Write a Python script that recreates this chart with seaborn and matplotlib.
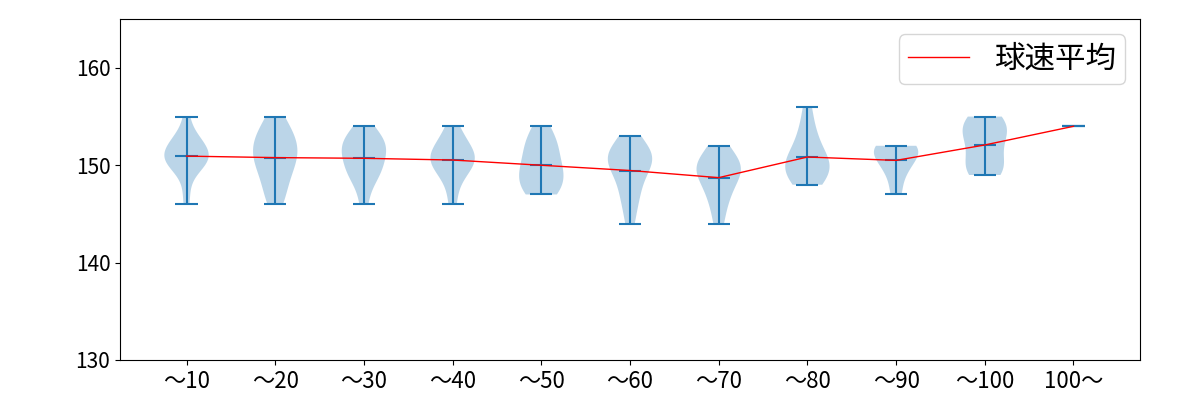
import numpy as np
import matplotlib
matplotlib.use("Agg")
import matplotlib.pyplot as plt
from matplotlib import cbook, mlab
import seaborn as sns
import pandas as pd

plt.rcParams['font.family'] = ['Noto Sans CJK JP', 'DejaVu Sans']

categories = ["～10", "～20", "～30", "～40", "～50", "～60", "～70", "～80", "～90", "～100", "100～"]

speeds_10 = [146, 148, 150, 150, 150, 150, 151, 151, 151, 151, 152, 152, 152, 153, 153, 155]
speeds_20 = [146, 147, 148, 149, 150, 150, 151, 151, 152, 152, 153, 153, 154, 155]
speeds_30 = [146, 148, 149, 149, 150, 150, 151, 151, 152, 152, 152, 153, 153, 154]
speeds_40 = [146, 148, 149, 150, 150, 150, 151, 151, 151, 152, 152, 153, 154]
speeds_50 = [147, 147, 148, 148, 149, 149, 150, 150, 151, 152, 152, 153, 154]
speeds_60 = [144, 146, 147, 148, 149, 150, 150, 151, 151, 151, 151, 152, 153]
speeds_70 = [144, 146, 147, 148, 149, 149, 150, 150, 150, 151, 152]
speeds_80 = [148, 148, 149, 149, 150, 150, 150, 151, 151, 152, 153, 154, 156]
speeds_90 = [147, 149, 150, 151, 151, 152, 152, 152]
speeds_100 = [149, 149, 150, 150, 151, 152, 153, 153, 154, 154, 155, 155]
speeds_over = [154]

groups = [speeds_10, speeds_20, speeds_30, speeds_40, speeds_50, speeds_60,
          speeds_70, speeds_80, speeds_90, speeds_100, speeds_over]


def kde(X, coords):
    X = np.asarray(X, dtype=float)
    if X.size < 2 or np.std(X) == 0:
        return np.zeros_like(coords)
    return mlab.GaussianKDE(X, "scott").evaluate(coords)


fig = plt.figure(figsize=(12, 4), dpi=100)
ax = fig.add_axes([0.1, 0.1, 0.85, 0.852])

positions = np.arange(1, len(categories) + 1)
stats = cbook.violin_stats(groups, kde)
ax.violin(stats, positions=positions, widths=0.5, showmeans=True,
          showextrema=True, showmedians=False)

means = pd.DataFrame({"pos": positions, "mean": [np.mean(g) for g in groups]})
sns.lineplot(data=means, x="pos", y="mean", color="red", linewidth=1,
             label="球速平均", ax=ax)

ax.set_xticks(positions)
ax.set_xticklabels(categories, fontsize=16)
ax.tick_params(axis="y", labelsize=15)
ax.set_xlim(0.25, 11.75)
ax.set_ylim(130, 165)
ax.set_yticks([130, 140, 150, 160])
ax.set_xlabel("")
ax.set_ylabel("")
ax.legend(loc="upper right", fontsize=22, handlelength=2, borderpad=0.3)

fig.savefig("out.png", dpi=100)
